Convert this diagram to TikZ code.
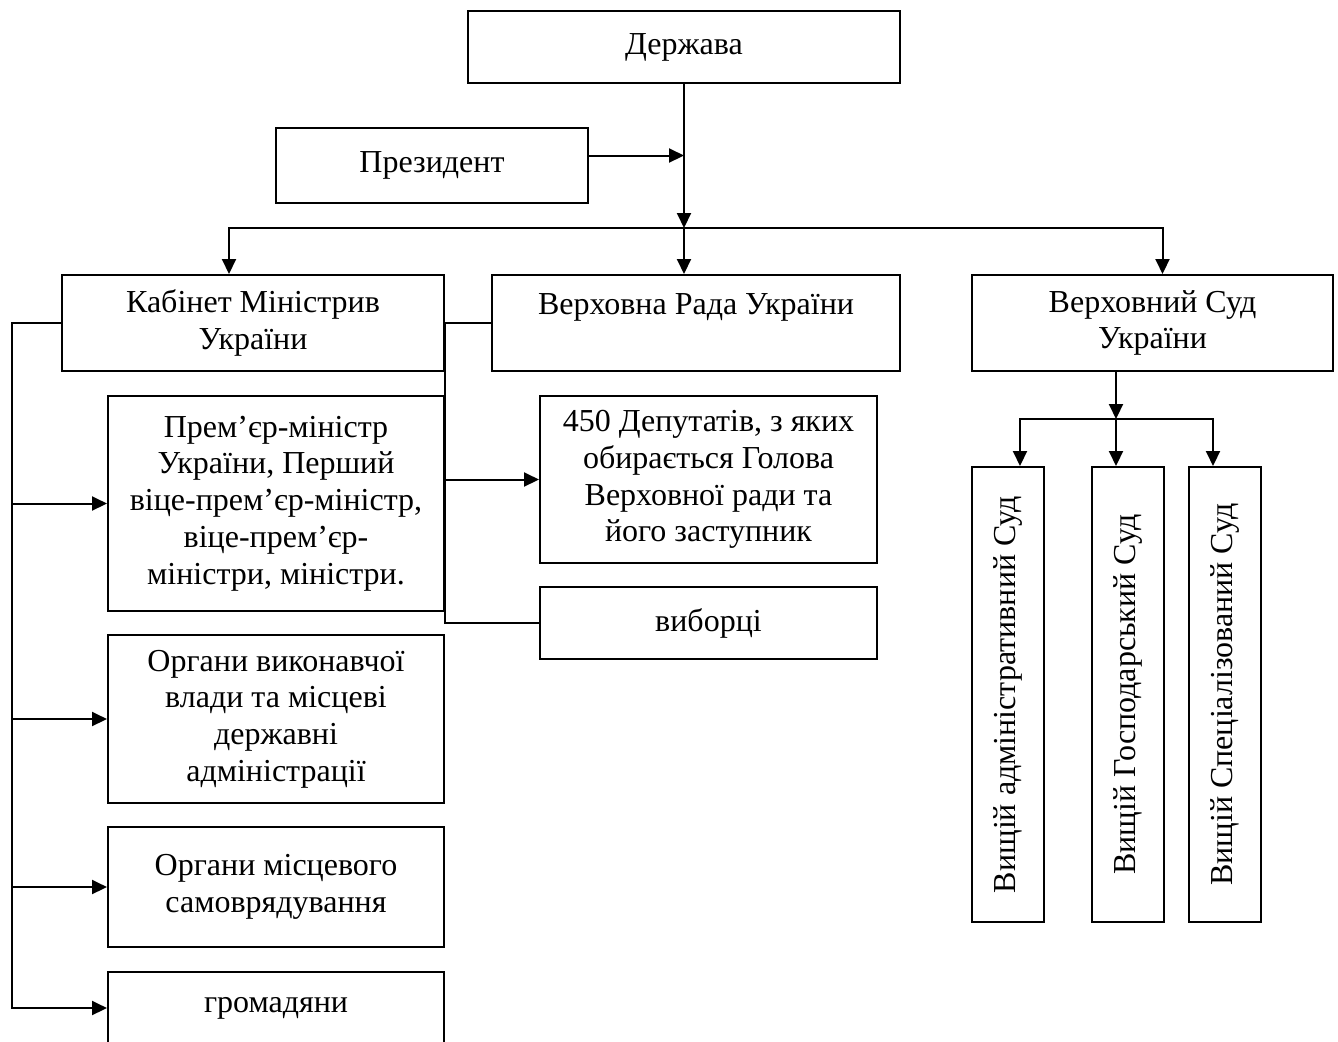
\documentclass[tikz,border=0pt]{standalone}
\usepackage{fontspec}
\setmainfont{Liberation Serif}
\usetikzlibrary{arrows.meta,positioning,calc}

\begin{document}
\begin{tikzpicture}[
    x=0.5pt, y=-0.5pt,
    line width=1pt,
    >={Triangle[length=7.5pt,width=7pt]},
    font=\fontsize{16}{18.4}\selectfont,
    box/.style={rectangle, draw, align=center, inner sep=2pt},
    sidebox/.style={box, minimum width=168pt},
    court/.style={rectangle, draw, minimum width=36pt, minimum height=227.5pt}
]
\useasboundingbox (0,0) rectangle (1338,1041);

% Top level
\node[box, minimum width=216pt, minimum height=36pt] (derzh) at (684,47) {Держава};
\node[box, minimum width=156pt, minimum height=37.5pt] (prez) at (432,165.5) {Президент};
\coordinate (split) at (684,228);

% Branches of power
\node[box, minimum width=191pt, minimum height=48pt] (kab) at (253,323) {Кабінет Міністрив\\України};
\node[box, minimum width=204pt, minimum height=48pt, text depth=19pt] (rada) at (696,323) {Верховна Рада України};
\node[box, minimum width=180.5pt, minimum height=48pt] (sud) at (1152.5,323) {Верховний Суд\\України};

% Executive
\node[sidebox, minimum height=107.5pt] (prem) at (276,503.5) {Прем’єр-міністр\\України, Перший\\віце-прем’єр-міністр,\\віце-прем’єр-\\міністри, міністри.};
\node[sidebox, minimum height=84pt] (organy) at (276,719) {Органи виконавчої\\влади та місцеві\\державні\\адміністрації};
\node[sidebox, minimum height=60pt] (mistse) at (276,887) {Органи місцевого\\самоврядування};
\node[sidebox, minimum height=36pt] (hromad) at (276,1008) {громадяни};
\coordinate (kabline) at (12,323);

% Parliament
\node[box, minimum width=168.5pt, minimum height=83.5pt] (deput) at (708.5,479.5) {450 Депутатів, з яких\\обирається Голова\\Верховної ради та\\його заступник};
\node[box, minimum width=168.5pt, minimum height=36pt] (vybor) at (708.5,623) {виборці};

% Courts
\coordinate (sudsplit) at (1116,419);
\node[court] (admin) at (1008,694.5) {\rotatebox{90}{Вищій адміністративний Суд}};
\node[court] (gosp) at (1128,694.5) {\rotatebox{90}{Вищій Господарський Суд}};
\node[court] (spec) at (1224.5,694.5) {\rotatebox{90}{Вищій Спеціалізований Суд}};

% Arrows from the state
\draw[->] (derzh) -- (split);
\draw[->] ([yshift=5pt]prez.east) -- ([yshift=5pt]prez.east -| derzh.south);
\draw[->] (split) -| ([xshift=-12pt]kab.north);
\draw[->] (split) -- (split |- rada.north);
\draw[->] (split) -| ([xshift=5pt]sud.north);

% Cabinet line
\draw[->] (kab.west) -- (kabline) |- (hromad.west);
\draw[->] (kabline |- prem.west) -- (prem.west);
\draw[->] (kabline |- organy.west) -- (organy.west);
\draw[->] (kabline |- mistse.west) -- (mistse.west);

% Parliament links
\draw (kab.east) -- (rada.west);
\draw (kab.east) |- (vybor.west);
\draw[->] (kab.east |- deput.west) -- (deput.west);

% Court arrows
\draw[->] (sudsplit |- sud.south) -- (sudsplit);
\draw[->] (sudsplit) -| ([xshift=6pt]admin.north);
\draw[->] (sudsplit) -- (sudsplit |- gosp.north);
\draw[->] (sudsplit) -| ([xshift=-5.75pt]spec.north);

\end{tikzpicture}
\end{document}
